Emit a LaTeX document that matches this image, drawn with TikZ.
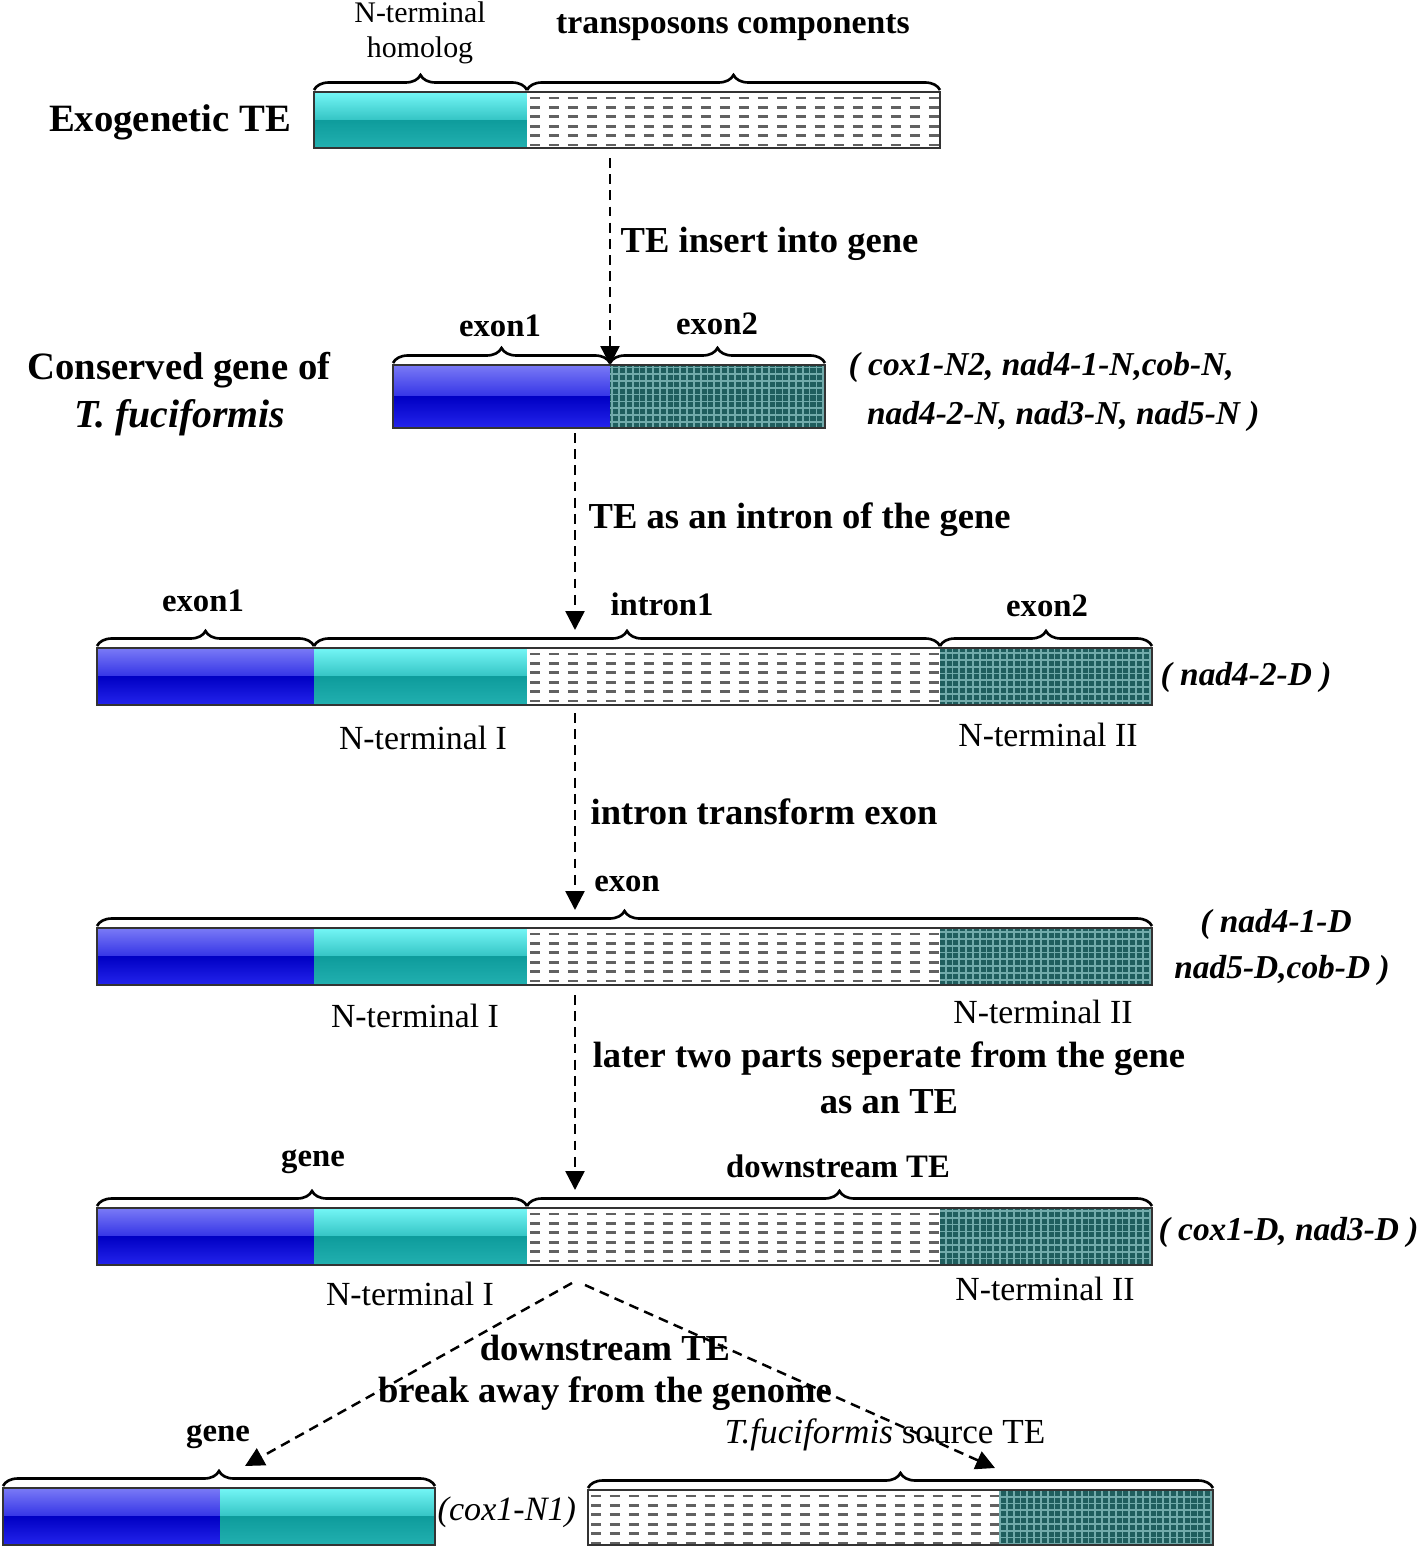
\documentclass[tikz,border=0pt]{standalone}
\usepackage{fontspec}
\setmainfont{Liberation Serif}
\usetikzlibrary{arrows.meta,decorations.pathreplacing}

\definecolor{bluetop}{HTML}{7A7AF6}
\definecolor{bluemid}{HTML}{3434E6}
\definecolor{bluedark}{HTML}{0000C4}
\definecolor{bluebot}{HTML}{2424EC}
\definecolor{cyantop}{HTML}{74F6F6}
\definecolor{cyanmid}{HTML}{34C4C4}
\definecolor{cyandark}{HTML}{0E9C9C}
\definecolor{cyanbot}{HTML}{22B0B0}
\definecolor{gridbg}{HTML}{1F5E5E}
\definecolor{gridln}{HTML}{72ABAB}

% segments: left x, right x, top y, bottom y (pixel units)
\newcommand{\blueseg}[4]{%
  \fill[top color=bluetop, bottom color=bluemid] (#1,#3) rectangle (#2,{(#3+#4)/2});
  \fill[top color=bluedark, bottom color=bluebot] (#1,{(#3+#4)/2}) rectangle (#2,#4);}
\newcommand{\cyanseg}[4]{%
  \fill[top color=cyantop, bottom color=cyanmid] (#1,#3) rectangle (#2,{(#3+#4)/2});
  \fill[top color=cyandark, bottom color=cyanbot] (#1,{(#3+#4)/2}) rectangle (#2,#4);}
\newcommand{\tesseg}[4]{%
  \fill[white] (#1,#3) rectangle (#2,#4);
  \foreach \k in {0,...,5}
    \draw[dashrow] ({#1+3},{#3+6+\k*9.4}) -- (#2,{#3+6+\k*9.4});}
\newcommand{\gridseg}[4]{%
  \fill[gridbg] (#1,#3) rectangle (#2,#4);
  \draw[gridln, line width=0.5pt, step=0.068cm] (#1,#3) grid (#2,#4);}
\newcommand{\outl}[4]{\draw[barline] (#1,#3) rectangle (#2,#4);}

\begin{document}
\begin{tikzpicture}[x=0.01cm,y=-0.01cm,
  dashrow/.style={draw=black!62, line width=0.8pt, dash pattern=on 2.8pt off 2.6pt},
  barline/.style={draw=black!80, line width=0.55pt},
  brc/.style={decorate, decoration={brace, amplitude=0.15cm}, line width=0.75pt},
  flow/.style={line width=0.7pt, dash pattern=on 2.8pt off 1.8pt, -{Triangle[length=5.4pt,width=5.4pt]}},
  lbl/.style={font=\fontsize{9.3}{12}\selectfont\bfseries, inner sep=0pt},
  nterm/.style={font=\fontsize{9.6}{12}\selectfont, inner sep=0pt},
  sml/.style={font=\fontsize{8.5}{10}\selectfont, inner sep=0pt, align=center},
  bld/.style={font=\fontsize{10.4}{13}\selectfont\bfseries, inner sep=0pt},
  big/.style={font=\fontsize{11}{13}\selectfont\bfseries, inner sep=0pt},
  gen/.style={font=\fontsize{9.5}{14}\selectfont\bfseries\itshape, inner sep=0pt}]
\useasboundingbox (0,0) rectangle (1418,1551);

% row 1: exogenetic TE
\cyanseg{314}{527}{92}{148}
\tesseg{527}{940}{92}{148}
\outl{314}{940}{92}{148}
\draw[brc] (314,90) -- (527,90);
\draw[brc] (527,90) -- (940,90);
\node[sml] (Nh) at (420,33) {N-terminal\\homolog};
\node[lbl, font=\fontsize{9.6}{12}\selectfont\bfseries] (Tc) at (733,28) {transposons components};
\node[big] (Exo) at (170,122) {Exogenetic TE};

% row 2: conserved gene
\blueseg{393}{610}{365}{428}
\gridseg{610}{825}{365}{428}
\outl{393}{825}{365}{428}
\draw[brc] (393,363) -- (610,363);
\draw[brc] (610,363) -- (825,363);
\node[lbl] (E1a) at (500,326) {exon1};
\node[lbl] (E2a) at (717,324) {exon2};
\node[big] (Cons) at (179,370) {Conserved gene of};
\node[big, font=\fontsize{11.3}{13}\selectfont\bfseries\itshape] (Tf) at (180,418) {T. fuciformis};
\node[gen, align=left, anchor=west] (G2) at (848,392) {( cox1-N2, nad4-1-N,cob-N,\\\hspace*{0.55em}nad4-2-N, nad3-N, nad5-N )};

% row 3: TE as intron
\blueseg{97}{314}{648}{705}
\cyanseg{314}{527}{648}{705}
\tesseg{527}{940}{648}{705}
\gridseg{940}{1152}{648}{705}
\outl{97}{1152}{648}{705}
\draw[brc] (97,646) -- (314,646);
\draw[brc] (314,646) -- (940,646);
\draw[brc] (940,646) -- (1152,646);
\node[lbl] (E1b) at (203,601) {exon1};
\node[lbl] (In1) at (662,604) {intron1};
\node[lbl] (E2b) at (1047,606) {exon2};
\node[gen, anchor=west] (G3) at (1160,677) {( nad4-2-D )};
\node[nterm] (N3a) at (423,738) {N-terminal I};
\node[nterm] (N3b) at (1048,735) {N-terminal II};

% row 4: intron becomes exon
\blueseg{97}{314}{928}{985}
\cyanseg{314}{527}{928}{985}
\tesseg{527}{940}{928}{985}
\gridseg{940}{1152}{928}{985}
\outl{97}{1152}{928}{985}
\draw[brc] (97,926) -- (1152,926);
\node[lbl] (Ex) at (627,884) {exon};
\node[gen] (G4a) at (1276,924) {( nad4-1-D};
\node[gen] (G4b) at (1282,970) {nad5-D,cob-D )};
\node[nterm] (N4a) at (415,1016) {N-terminal I};
\node[nterm] (N4b) at (1043,1012) {N-terminal II};

% row 5: two parts
\blueseg{97}{314}{1208}{1265}
\cyanseg{314}{527}{1208}{1265}
\tesseg{527}{940}{1208}{1265}
\gridseg{940}{1152}{1208}{1265}
\outl{97}{1152}{1208}{1265}
\draw[brc] (97,1206) -- (527,1206);
\draw[brc] (527,1206) -- (1152,1206);
\node[lbl] (Gn5) at (313,1162) {gene};
\node[lbl] (Dt5) at (838,1166) {downstream TE};
\node[gen, anchor=west] (G5) at (1158,1232) {( cox1-D, nad3-D )};
\node[nterm] (N5a) at (410,1294) {N-terminal I};
\node[nterm] (N5b) at (1045,1289) {N-terminal II};

% row 6: gene and source TE
\blueseg{3}{220}{1488}{1545}
\cyanseg{220}{435}{1488}{1545}
\outl{3}{435}{1488}{1545}
\draw[brc] (3,1486) -- (435,1486);
\node[lbl] (Gn6) at (218,1437) {gene};
\node[nterm, font=\fontsize{9.7}{12}\selectfont\itshape, anchor=west] (G6) at (437,1512) {(cox1-N1)};
\tesseg{588}{1000}{1490}{1545}
\gridseg{1000}{1213}{1490}{1545}
\outl{588}{1213}{1490}{1545}
\draw[brc] (588,1488) -- (1213,1488);
\node[nterm, font=\fontsize{10}{12}\selectfont] (Src) at (885,1435) {\textit{T.fuciformis} source TE};

% flow arrows
\coordinate (A1) at (610,158);
\coordinate (B1) at (610,365);
\coordinate (A2) at (575,433);
\coordinate (B2) at (575,630);
\coordinate (A3) at (575,713);
\coordinate (B3) at (575,910);
\coordinate (A4) at (575,995);
\coordinate (B4) at (575,1190);
\coordinate (A5) at (572,1283);
\coordinate (B5) at (245,1466);
\coordinate (A6) at (585,1285);
\coordinate (B6) at (995,1468);
\draw[flow] (A1) -- (B1);
\draw[flow] (A2) -- (B2);
\draw[flow] (A3) -- (B3);
\draw[flow] (A4) -- (B4);
\draw[flow] (A5) -- (B5);
\draw[flow] (A6) -- (B6);
\node[bld, anchor=west] (L1) at (620,244) {TE insert into gene};
\node[bld, anchor=west] (L2) at (588,520) {TE as an intron of the gene};
\node[bld, anchor=west] (L3) at (590,812) {intron transform exon};
\node[bld, align=center] (L4) at (889,1078) {later two parts seperate from the gene\\as an TE};
\node[bld, align=center, font=\fontsize{10.4}{11.8}\selectfont\bfseries] (L5) at (605,1373) {downstream TE\\break away from the genome};
\end{tikzpicture}
\end{document}
